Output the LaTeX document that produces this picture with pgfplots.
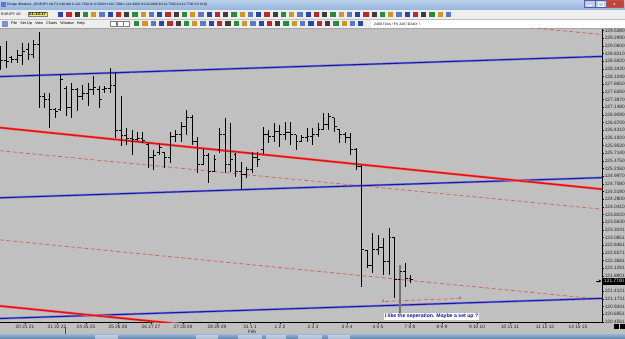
\documentclass[border=0pt]{standalone}
\usepackage{fontspec}
\setmainfont{Liberation Sans}
\usepackage{pgfplots}
\pgfplotsset{compat=1.18}
\usepackage{pgfplotstable}

\definecolor{chartbg}{RGB}{192,192,192}
\definecolor{tlblue}{RGB}{25,25,160}
\definecolor{tlbluehalo}{RGB}{120,125,215}
\definecolor{tlred}{RGB}{226,18,18}
\definecolor{tlredhalo}{RGB}{238,120,120}
\definecolor{dashred}{RGB}{212,100,100}
\definecolor{titletop}{RGB}{185,208,235}
\definecolor{titlebot}{RGB}{150,182,220}
\definecolor{toolbg}{RGB}{238,238,238}
\definecolor{annblue}{RGB}{20,20,150}
\definecolor{ic0}{RGB}{40,70,170}
\definecolor{ic1}{RGB}{190,40,40}
\definecolor{ic2}{RGB}{60,60,60}
\definecolor{ic3}{RGB}{40,140,60}
\definecolor{ic4}{RGB}{210,150,40}
\definecolor{ic5}{RGB}{90,120,200}

\pgfdeclareplotmark{openL}{\pgfpathmoveto{\pgfqpoint{-2.4bp}{0pt}}\pgfpathlineto{\pgfqpoint{0pt}{0pt}}\pgfusepathqstroke}
\pgfdeclareplotmark{closeR}{\pgfpathmoveto{\pgfqpoint{0pt}{0pt}}\pgfpathlineto{\pgfqpoint{2.4bp}{0pt}}\pgfusepathqstroke}

\pgfplotstableread{
k H L O C
0 129.070 128.321 128.633 128.602
1 129.226 128.383 128.602 128.570
2 128.758 128.539 128.695 128.633
3 128.945 128.539 128.633 128.758
4 129.163 128.477 128.758 128.883
5 129.163 128.633 128.945 128.789
6 129.257 128.695 128.789 129.101
7 129.476 127.135 129.101 127.478
8 127.603 127.135 127.478 127.385
9 127.603 126.511 127.385 127.072
10 127.135 126.823 127.072 127.010
11 128.165 127.041 127.072 128.009
12 127.821 126.885 127.728 127.135
13 127.915 126.823 127.135 127.697
14 127.759 127.041 127.697 127.478
15 127.853 127.385 127.478 127.572
16 127.915 127.197 127.572 127.697
17 128.134 127.541 127.697 127.759
18 127.821 127.135 127.697 127.385
19 127.821 127.603 127.697 127.728
20 128.383 127.603 127.728 127.821
21 128.227 126.199 127.821 126.417
22 127.509 125.949 126.417 126.261
23 126.511 125.980 126.261 126.167
24 126.448 125.668 126.167 126.136
25 126.386 126.074 126.136 126.167
26 126.386 126.043 126.167 126.105
27 126.043 125.262 125.980 125.574
28 125.824 125.200 125.574 125.637
29 126.043 125.668 125.730 125.886
30 125.762 125.262 125.730 125.574
31 126.386 125.418 125.574 126.230
32 126.448 126.074 126.230 126.292
33 126.698 126.074 126.292 126.542
34 127.072 126.292 126.542 126.823
35 126.916 125.980 126.823 126.074
36 126.230 125.106 126.074 125.356
37 125.886 125.356 125.356 125.637
38 125.730 124.794 125.637 125.137
39 125.668 125.137 125.137 125.512
40 126.511 125.730 125.824 126.292
41 126.823 125.106 126.292 125.356
42 126.667 125.137 125.356 125.512
43 125.730 124.981 125.668 125.137
44 125.450 124.576 125.137 125.044
45 125.293 124.950 125.044 125.200
46 125.762 125.106 125.200 125.574
47 125.762 125.293 125.574 125.512
48 126.542 125.668 125.824 126.292
49 126.448 126.043 126.292 126.230
50 126.667 126.074 126.230 126.386
51 126.604 125.918 126.386 126.292
52 126.698 126.136 126.292 126.355
53 126.698 125.980 126.355 126.292
54 126.292 125.824 126.292 126.074
55 126.292 126.074 126.074 126.199
56 126.511 126.074 126.199 126.230
57 126.511 125.980 126.230 126.292
58 126.667 126.230 126.292 126.448
59 126.979 126.448 126.448 126.604
60 126.979 126.448 126.604 126.854
61 126.823 126.386 126.823 126.542
62 126.448 126.043 126.448 126.292
63 126.386 126.043 126.292 126.199
64 126.355 125.668 126.199 125.824
65 125.886 125.200 125.824 125.293
66 125.356 121.548 125.293 122.703
67 122.703 122.141 122.672 122.204
68 123.234 121.985 122.204 122.703
69 123.171 122.547 122.703 122.765
70 123.078 121.923 122.765 122.329
71 123.390 121.923 122.329 123.078
72 123.078 121.205 123.078 121.767
74 122.297 121.548 122.016 121.798
75 121.923 121.673 121.798 121.770
}\bars

\pgfplotstableread{
k H L O C
73 122.235 120.518 121.767 122.016
}\graybar

\newcommand{\tinyf}{\fontsize{4.8}{5.5}\selectfont}

\begin{document}
\begin{tikzpicture}
\path[use as bounding box] (0,0) rectangle (625bp,-339bp);
% chart background
\fill[chartbg] (0,-28.5bp) rectangle (625bp,-334bp);

% title bar
\shade[top color=titletop, bottom color=titlebot] (0,0) rectangle (625bp,-9.5bp);
\fill[ic5] (1bp,-2bp) rectangle (5.5bp,-7bp);
\node[anchor=west, inner sep=0pt, font=\fontsize{3.3}{4}\selectfont] at (7bp,-4.8bp) {Ensign Windows - [EURJPY A0-FX 240-Min C:121.7300 N:-0.3300 H:122.7000 L:121.6000 O:122.0000 B:121.7300 A:121.7700 V:0 OI:0]};
\draw[fill=titletop, draw=gray!70!blue, line width=0.3bp] (584bp,-0.6bp) rectangle (595bp,-7.6bp);
\draw[fill=titletop, draw=gray!70!blue, line width=0.3bp] (595bp,-0.6bp) rectangle (606bp,-7.6bp);
\draw[fill={rgb,255:red,200;green,65;blue,50}, draw=gray!70!red, line width=0.3bp] (606bp,-0.6bp) rectangle (623bp,-7.6bp);
\node[text=white, font=\fontsize{4}{4}\selectfont\bfseries, inner sep=0pt] at (614.5bp,-4.1bp) {x};
\draw[white, line width=0.5bp] (587bp,-5.5bp) -- (592bp,-5.5bp);
\draw[white, line width=0.4bp] (598bp,-2.5bp) rectangle (603bp,-5.8bp);

% toolbars
\fill[toolbg] (0,-9.5bp) rectangle (625bp,-28.5bp);
\draw[gray!50, line width=0.3bp] (0,-19bp) -- (625bp,-19bp);
\draw[gray!70, line width=0.3bp] (0,-28.5bp) -- (625bp,-28.5bp);
\node[anchor=west, inner sep=0pt, font=\fontsize{3.6}{4}\selectfont] at (1bp,-14.3bp) {EURJPY A0};
\node[anchor=west, fill={rgb,255:red,250;green,235;blue,90}, draw=gray, line width=0.3bp, inner sep=0.8bp, font=\fontsize{4.3}{5}\selectfont\bfseries] at (28bp,-14.3bp) {21:10:17};
\foreach \i in {0,...,47}{
  \pgfmathtruncatemacro\m{mod(\i,6)}
  \fill[ic\m] ({58bp+\i*8.25bp},-11.8bp) rectangle +(5.3bp,-5.3bp);
}
\fill[ic0!60] (1.5bp,-20.8bp) rectangle (7.5bp,-26.5bp);
\node[anchor=west, inner sep=0pt, font=\fontsize{3.8}{4}\selectfont] at (11bp,-23.6bp) {File\hspace{3bp}Set-Up\hspace{3bp}View\hspace{3bp}Charts\hspace{3bp}Window\hspace{3bp}Help};
\foreach \i in {0,1,2}{
  \draw[fill=white, draw=gray, line width=0.3bp] ({110bp+\i*6.8bp},-20.8bp) rectangle +(6bp,-5.5bp);
}
\foreach \i in {0,...,27}{
  \pgfmathtruncatemacro\m{mod(\i+3,6)}
  \fill[ic\m] ({134bp+\i*8.3bp},-21bp) rectangle +(5.3bp,-5.3bp);
}
\fill[white] (371bp,-19.8bp) rectangle (625bp,-27.8bp);
\node[anchor=west, inner sep=0pt, font=\fontsize{3.5}{4}\selectfont] at (374bp,-23.8bp) {2400 Ticks / FX 240 / DAILY /};

\begin{axis}[
  at={(0bp,-322bp)}, anchor=south west,
  width=602bp, height=293.5bp, scale only axis,
  xmin=-0.128, xmax=109.93,
  ymin=120.456, ymax=129.600,
  axis x line*=bottom, axis y line*=right,
  axis line style={-, black, line width=0.5bp},
  tick align=outside, major tick length=2bp,
  tick style={black, line width=0.4bp},
  xtick={4.44,10.29,15.59,21.44,27.48,33.33,39.54,45.58,51.06,57.09,63.31,68.97,74.83,80.68,87.08,93.11,99.50,105.54},
  xticklabels={20 21 21,21 22 22,24 25 25,25 26 26,26 27 27,27 28 28,28 29 29,31 1 1,1 2 2,2 3 3,3 4 4,4 5 5,7 8 8,8 9 9,9 10 10,10 11 11,11 12 12,14 15 15},
  ytick={129.5380,129.2990,129.0600,128.8210,128.5820,128.3430,128.1040,127.8650,127.6260,127.3870,127.1480,126.9090,126.6700,126.4310,126.1920,125.9530,125.7140,125.4750,125.2360,124.9970,124.7580,124.5190,124.2800,124.0410,123.8020,123.5630,123.3241,123.0851,122.8461,122.6071,122.3681,122.1291,121.8901,121.4121,121.1731,120.9341,120.6951,120.4561},
  yticklabels={129.5380,129.2990,129.0600,128.8210,128.5820,128.3430,128.1040,127.8650,127.6260,127.3870,127.1480,126.9090,126.6700,126.4310,126.1920,125.9530,125.7140,125.4750,125.2360,124.9970,124.7580,124.5190,124.2800,124.0410,123.8020,123.5630,123.3241,123.0851,122.8461,122.6071,122.3681,122.1291,121.8901,121.4121,121.1731,120.9341,120.6951,120.4561},
  ticklabel style={font=\tinyf, text=black!85, inner sep=0.6bp},
  /pgf/number format/assume math mode=true,
  axis background/.style={fill=chartbg},
  clip=true,
]
% dashed red lines
\addplot[dashred, line width=0.8bp, dash pattern=on 4bp off 2.5bp] coordinates {(-0.128,131.233) (109.93,129.410)};
\addplot[dashred, line width=0.8bp, dash pattern=on 4bp off 2.5bp] coordinates {(-0.128,125.793) (109.93,123.970)};
\addplot[dashred, line width=0.8bp, dash pattern=on 4bp off 2.5bp] coordinates {(-0.128,123.015) (109.93,121.161)};
\addplot[dashred, line width=0.8bp, dash pattern=on 4bp off 2.5bp] coordinates {(70.26,121.096) (83.60,121.189)};
% blue channel lines
\addplot[tlbluehalo, line width=2.2bp] coordinates {(-0.128,128.102) (109.93,128.731)};
\addplot[tlblue, line width=1bp] coordinates {(-0.128,128.102) (109.93,128.731)};
\addplot[tlbluehalo, line width=2.2bp] coordinates {(-0.128,124.326) (109.93,124.954)};
\addplot[tlblue, line width=1bp] coordinates {(-0.128,124.326) (109.93,124.954)};
\addplot[tlbluehalo, line width=2.2bp] coordinates {(-0.128,120.565) (109.93,121.193)};
\addplot[tlblue, line width=1bp] coordinates {(-0.128,120.565) (109.93,121.193)};
% red thick lines
\addplot[tlredhalo, line width=2.6bp] coordinates {(-0.128,126.511) (109.93,124.594)};
\addplot[tlred, line width=1.5bp] coordinates {(-0.128,126.511) (109.93,124.594)};
\addplot[tlredhalo, line width=2.6bp] coordinates {(-0.128,120.955) (36.44,120.331)};
\addplot[tlred, line width=1.5bp] coordinates {(-0.128,120.955) (36.44,120.331)};

% OHLC bars: high-low ranges
\addplot[draw=none, mark=none, error bars/.cd, y dir=plus, y explicit, error mark=none,
  error bar style={draw=black, solid, line width=0.9bp}]
  table[x=k, y=L, y error expr=\thisrow{H}-\thisrow{L}] {\bars};
\addplot[draw=none, mark=openL, mark options={draw=black, solid, line width=0.9bp}] table[x=k, y=O] {\bars};
\addplot[draw=none, mark=closeR, mark options={draw=black, solid, line width=0.9bp}] table[x=k, y=C] {\bars};
\addplot[draw=none, mark=none, error bars/.cd, y dir=plus, y explicit, error mark=none,
  error bar style={draw=black!55, solid, line width=1.5bp}]
  table[x=k, y=L, y error expr=\thisrow{H}-\thisrow{L}] {\graybar};
\addplot[draw=none, mark=openL, mark options={draw=black, solid, line width=0.9bp}] table[x=k, y=O] {\graybar};
\addplot[draw=none, mark=closeR, mark options={draw=black, solid, line width=0.9bp}] table[x=k, y=C] {\graybar};

\node[text=red!80!black, font=\fontsize{3.8}{4}\selectfont, inner sep=0pt] at (axis cs:69.9,121.11) {A};
\node[text=red!80!black, font=\fontsize{3.8}{4}\selectfont, inner sep=0pt] at (axis cs:84.0,121.20) {A};
\node[fill=white, inner sep=0.7bp, font=\fontsize{5.2}{6}\selectfont\bfseries, text=annblue] at (axis cs:78.76,120.628) {I like the seperation. Maybe a set up ?};
\end{axis}

% current price marker
\fill[black] (603bp,-277.8bp) rectangle (625bp,-284.5bp);
\node[text=white!85!gray, font=\tinyf, inner sep=0pt, anchor=west] at (604bp,-281.2bp) {121.7700};
\draw[black, line width=0.4bp, ->, >=stealth] (595.5bp,-281bp) -- (601.5bp,-281bp);
% Feb and small red marker
\node[font=\tinyf, inner sep=0pt, text=black!85] at (252bp,-331.3bp) {Feb};
\draw[red, line width=0.6bp] (65bp,-327bp) -- (65bp,-334bp);
\fill[black] (613.5bp,-323.5bp) rectangle (618.5bp,-328.5bp);
\fill[black] (619.5bp,-323.5bp) rectangle (624.5bp,-328.5bp);

% taskbar
\shade[top color={rgb,255:red,150;green,180;blue,212}, bottom color={rgb,255:red,95;green,130;blue,175}] (0,-334bp) rectangle (625bp,-339bp);
\foreach \a/\b in {95/118,196/218,238/262,266/286,298/322,328/350}{
  \fill[white, opacity=0.45] (\a bp,-334.8bp) rectangle (\b bp,-339bp);
}
\end{tikzpicture}
\end{document}
